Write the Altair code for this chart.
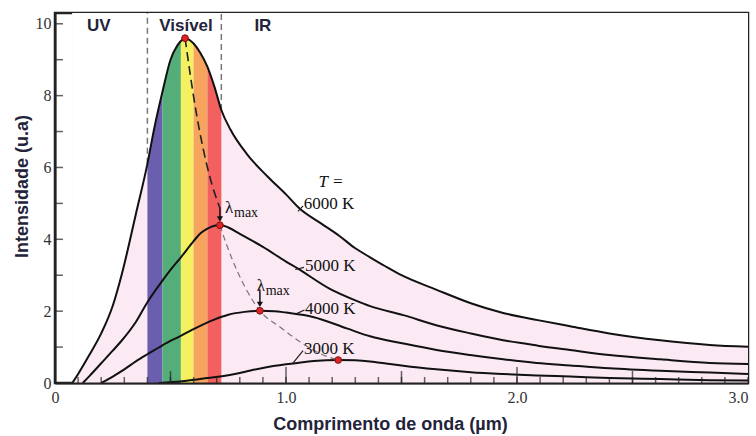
import altair as alt
import pandas as pd

# ---------------- data ----------------
# wavelength (µm) and intensity (u.a.) for each temperature curve
x_6000 = [0.075, 0.10, 0.144, 0.20, 0.25, 0.29, 0.35, 0.40, 0.43, 0.465,
          0.50, 0.53, 0.545, 0.563, 0.60, 0.628, 0.66, 0.69, 0.72, 0.76,
          0.83, 0.92, 1.00, 1.06, 1.15, 1.23, 1.30, 1.364, 1.43, 1.50,
          1.65, 1.80, 1.94, 2.09, 2.23, 2.40, 2.62, 2.835, 3.00]
y_6000 = [0.0, 0.25, 0.73, 1.38, 2.15, 3.05, 4.7, 6.1, 7.1, 8.1,
          9.0, 9.4, 9.52, 9.6, 9.45, 9.2, 8.8, 8.25, 7.6, 7.05,
          6.38, 5.75, 5.25, 4.85, 4.45, 4.1, 3.75, 3.5, 3.25, 3.0,
          2.6, 2.22, 1.95, 1.75, 1.58, 1.38, 1.19, 1.06, 1.01]

x_5000 = [0.12, 0.15, 0.20, 0.25, 0.29, 0.35, 0.40, 0.465, 0.50, 0.545,
          0.60, 0.63, 0.66, 0.69, 0.714, 0.75, 0.80, 0.90, 1.00, 1.05,
          1.19, 1.30, 1.364, 1.508, 1.65, 1.80, 1.94, 2.09, 2.23, 2.40,
          2.62, 2.835, 3.00]
y_5000 = [0.0, 0.2, 0.55, 0.9, 1.19, 1.7, 2.25, 2.85, 3.15, 3.5,
          3.95, 4.17, 4.3, 4.38, 4.4, 4.33, 4.15, 3.79, 3.38, 3.19,
          2.62, 2.3, 2.14, 1.89, 1.61, 1.38, 1.19, 1.04, 0.92, 0.78,
          0.66, 0.56, 0.53]

x_4000 = [0.20, 0.25, 0.30, 0.35, 0.40, 0.465, 0.54, 0.60, 0.684, 0.75,
          0.82, 0.887, 0.95, 1.00, 1.117, 1.263, 1.364, 1.508, 1.652, 1.797,
          1.94, 2.085, 2.23, 2.40, 2.62, 2.835, 3.00]
y_4000 = [0.0, 0.18, 0.38, 0.6, 0.8, 1.05, 1.3, 1.5, 1.75, 1.9,
          1.98, 2.01, 2.0, 1.96, 1.84, 1.52, 1.3, 1.1, 0.92, 0.78,
          0.66, 0.56, 0.49, 0.41, 0.34, 0.29, 0.25]

x_3000 = [0.45, 0.55, 0.65, 0.714, 0.80, 0.90, 1.00, 1.05, 1.12, 1.226,
          1.30, 1.364, 1.45, 1.508, 1.65, 1.80, 1.94, 2.085, 2.23, 2.40,
          2.62, 2.835, 3.00]
y_3000 = [0.0, 0.05, 0.13, 0.18, 0.28, 0.42, 0.52, 0.56, 0.61, 0.64,
          0.63, 0.6, 0.53, 0.48, 0.38, 0.3, 0.25, 0.21, 0.18, 0.14,
          0.11, 0.08, 0.07]

curve_names = ["6000 K", "5000 K", "4000 K", "3000 K"]

# peaks (λmax)
peak_x = [0.563, 0.714, 0.887, 1.226]
peak_y = [9.6, 4.39, 2.01, 0.64]

# Wien displacement dashed paths
wien1_x = [0.563, 0.61, 0.671, 0.712]
wien1_y = [9.6, 7.58, 5.72, 4.9]
wien2_x = [0.714, 0.74, 0.79, 0.83, 0.887, 0.974, 1.06, 1.147, 1.226]
wien2_y = [4.39, 3.9, 3.1, 2.58, 2.01, 1.56, 1.15, 0.82, 0.64]

# visible spectrum bands
band_lo = [0.40, 0.465, 0.545, 0.60, 0.66]
band_hi = [0.465, 0.545, 0.60, 0.66, 0.72]
band_col = ["#6a5fae", "#55ad7a", "#f4f062", "#f7a45e", "#f2605f"]

# region header labels
hdr_text = ["UV", "Visível", "IR"]
hdr_x = [0.19, 0.567, 0.90]
hdr_y = [9.93, 9.93, 9.93]

# curve labels
lab_text = ["6000 K", "5000 K", "4000 K", "3000 K"]
lab_x = [1.077, 1.082, 1.082, 1.078]
lab_y = [4.99, 3.25, 2.07, 0.95]
lead_x1 = [1.052, 1.040, 1.046, 1.030]
lead_y1 = [4.78, 3.16, 1.93, 0.55]
lead_x2 = [1.074, 1.078, 1.080, 1.074]
lead_y2 = [4.93, 3.22, 2.03, 0.90]

# λmax labels and arrows
lam_x = [0.736, 0.873]
lam_y = [4.88, 2.69]
arr_x = [0.714, 0.887]
arr_y1 = [4.9, 2.6]
arr_head = [4.57, 2.19]

YMAX = 10.3
W, H = 693, 370
PINK = "#fbeaf4"
INK = "#222222"
TXT = "#23233a"

# ---------------- tables ----------------
rows = []
for name, xs_, ys_ in zip(curve_names, [x_6000, x_5000, x_4000, x_3000],
                          [y_6000, y_5000, y_4000, y_3000]):
    for a, b in zip(xs_, ys_):
        rows.append({"x": a, "y": b, "T": name})
curves = pd.DataFrame(rows)
df6000 = curves[curves["T"] == "6000 K"]

c6000 = dict(zip(x_6000, y_6000))

xs = alt.Scale(domain=[0, 3], nice=False, zero=False)
ys = alt.Scale(domain=[0, YMAX], nice=False)

x_axis = alt.Axis(
    values=[0, 1, 2, 3],
    labelExpr="datum.value == 0 ? '0' : format(datum.value, '.1f')",
    labelAlign={"condition": {"test": "datum.value == 3", "value": "right"},
                "value": "center"},
    ticks=False, grid=False, domainColor=INK, domainWidth=2, zindex=2,
    labelFont="Liberation Serif", labelFontSize=16, labelColor="#333333",
    labelPadding=6, labelFlush=False,
    title="Comprimento de onda (µm)", titleFont="Liberation Sans",
    titleFontSize=18, titleFontWeight="bold", titleColor=TXT,
    titleX=335, titleY=41, titleBaseline="middle",
)
y_axis = alt.Axis(
    values=[0, 2, 4, 6, 8, 10],
    ticks=False, grid=False, domainColor=INK, domainWidth=2, zindex=2,
    labelFont="Liberation Serif", labelFontSize=16, labelColor="#333333",
    labelPadding=4, labelFlush=False,
    title="Intensidade (u.a)", titleFont="Liberation Sans",
    titleFontSize=18, titleFontWeight="bold", titleColor=TXT,
    titleX=-33, titleY=173, titleBaseline="middle",
)


def X(f="x:Q"):
    return alt.X(f, scale=xs, axis=x_axis)


def Y(f="y:Q"):
    return alt.Y(f, scale=ys, axis=y_axis)


def X0():
    return alt.X(datum=0, type="quantitative", scale=xs, axis=x_axis)


def Y0():
    return alt.Y(datum=0, type="quantitative", scale=ys, axis=y_axis)


# pink fill under the 6000 K curve (covered above the curve by white)
pink = alt.Chart(pd.DataFrame({"x": [x_6000[0]], "x2": [x_6000[-1]]})).mark_rect(
    color=PINK).encode(x=X(), x2="x2:Q", y=Y0(), y2=alt.Y2(datum=YMAX))

bands = alt.Chart(pd.DataFrame({"x": band_lo, "x2": band_hi, "c": band_col})).mark_rect().encode(
    x=X(), x2="x2:Q", y=Y0(), y2=alt.Y2(datum=YMAX),
    color=alt.Color("c:N", scale=None, legend=None))

white = alt.Chart(df6000).mark_area(color="white", interpolate="monotone").encode(
    x=X(), y=Y(), y2=alt.Y2(datum=YMAX))

vlines = alt.Chart(pd.DataFrame({
    "x": [band_lo[0], band_hi[-1]],
    "y": [c6000[band_lo[0]], c6000[band_hi[-1]]]})).mark_rule(
    color="#777777", strokeWidth=1.5, strokeDash=[6, 4]).encode(
    x=X(), y=Y(), y2=alt.Y2(datum=YMAX))

lines = alt.Chart(curves).mark_line(color="#111111", strokeWidth=2,
                                     interpolate="monotone").encode(
    x=X(), y=Y(), detail="T:N")

w1 = alt.Chart(pd.DataFrame({"x": wien1_x, "y": wien1_y})).mark_line(
    color="#222222", strokeWidth=1.6, strokeDash=[9, 5], interpolate="monotone").encode(
    x=X(), y=Y())
w2 = alt.Chart(pd.DataFrame({"x": wien2_x, "y": wien2_y})).mark_line(
    color="#777777", strokeWidth=1.2, strokeDash=[6, 4], interpolate="monotone").encode(
    x=X(), y=Y())

arrows = alt.Chart(pd.DataFrame({"x": arr_x, "y": arr_y1, "y2": arr_head})).mark_rule(
    color="#111111", strokeWidth=1.5).encode(x=X(), y=Y(), y2="y2:Q")
heads = alt.Chart(pd.DataFrame({"x": arr_x, "y": arr_head})).mark_point(
    shape="triangle-down", filled=True, color="#111111", size=38, opacity=1).encode(
    x=X(), y=Y())

leaders = alt.Chart(pd.DataFrame({"x": lead_x1, "y": lead_y1,
                                  "x2": lead_x2, "y2": lead_y2})).mark_rule(
    color="#222222", strokeWidth=1.2).encode(x=X(), y=Y(), x2="x2:Q", y2="y2:Q")

dots = alt.Chart(pd.DataFrame({"x": peak_x, "y": peak_y})).mark_point(
    shape="circle", filled=True, fill="#e02424", stroke="#7a1010",
    strokeWidth=1, size=45, opacity=1).encode(x=X(), y=Y())

headers = alt.Chart(pd.DataFrame({"x": hdr_x, "y": hdr_y, "t": hdr_text})).mark_text(
    font="Liberation Sans", fontSize=17, fontWeight="bold", color=TXT,
    align="center", baseline="middle").encode(x=X(), y=Y(), text="t:N")

labels = alt.Chart(pd.DataFrame({"x": lab_x, "y": lab_y, "t": lab_text})).mark_text(
    font="Liberation Serif", fontSize=17, color="#111111",
    align="left", baseline="middle").encode(x=X(), y=Y(), text="t:N")

tlabel = alt.Chart(pd.DataFrame({"x": [1.195], "y": [5.59], "t": ["T ="]})).mark_text(
    font="Liberation Serif", fontSize=17, fontStyle="italic", color="#111111",
    align="center", baseline="middle").encode(x=X(), y=Y(), text="t:N")

lam = alt.Chart(pd.DataFrame({"x": lam_x, "y": lam_y, "t": ["λ", "λ"]})).mark_text(
    font="Liberation Serif", fontSize=17, color="#111111",
    align="left", baseline="middle").encode(x=X(), y=Y(), text="t:N")
lam_sub = alt.Chart(pd.DataFrame({"x": lam_x, "y": lam_y, "t": ["max", "max"]})).mark_text(
    font="Liberation Serif", fontSize=14, color="#111111",
    align="left", baseline="middle", dx=9, dy=5).encode(x=X(), y=Y(), text="t:N")

# inward tick marks
xt_minor = [i / 10 for i in range(31)]
xt_mid = [0.5, 1.5, 2.5]
xt_major = [1.0, 2.0]
yt = list(range(11))


def xticks(vals, size):
    return alt.Chart(pd.DataFrame({"x": vals})).mark_tick(
        orient="vertical", size=size, thickness=1.5, color=INK, yOffset=-size / 2).encode(
        x=X(), y=Y0())


ytick = alt.Chart(pd.DataFrame({"y": yt})).mark_tick(
    orient="horizontal", size=8, thickness=1.5, color=INK, xOffset=4).encode(
    y=Y(), x=X0())

chart = alt.layer(
    pink, bands, white, vlines, lines, w1, w2, arrows, heads, leaders, dots,
    headers, labels, tlabel, lam, lam_sub,
    xticks(xt_minor, 6), xticks(xt_mid, 12), xticks(xt_major, 16), ytick,
).properties(
    width=W, height=H,
    autosize=alt.AutoSizeParams(type="none"),
    padding={"left": 55, "top": 13, "right": 8, "bottom": 53},
    background="white",
).configure_view(stroke="#222222", strokeWidth=2.5)

chart.save("out.html", embed_options={"renderer": "svg", "actions": False})
